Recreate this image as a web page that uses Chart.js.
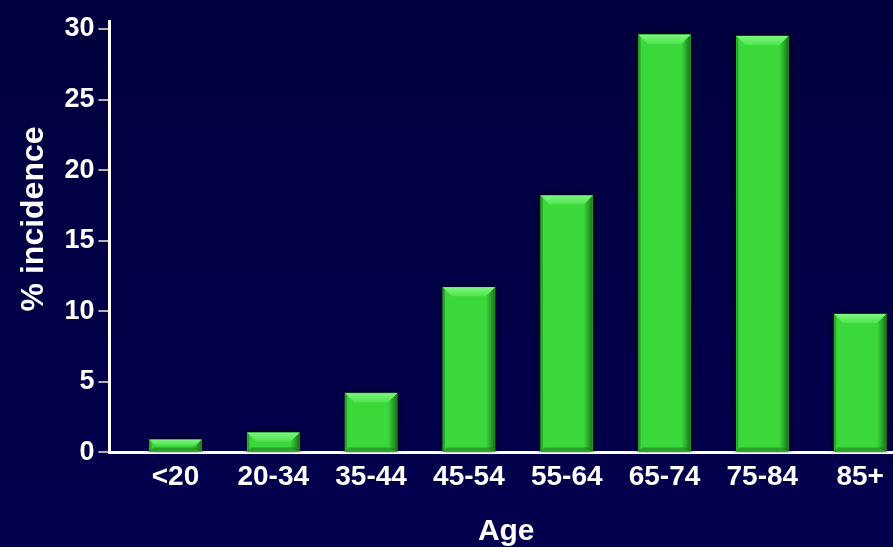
<!DOCTYPE html>
<html>
<head>
<meta charset="utf-8">
<script src="https://cdn.jsdelivr.net/npm/chart.js@4/dist/chart.umd.min.js"></script>
<style>
  html, body { margin: 0; padding: 0; overflow: hidden; }
  body { width: 893px; height: 547px; background: linear-gradient(#00003e, #03004e); }
  #c { position: absolute; left: 0; top: 0; }
</style>
</head>
<body>
<canvas id="c" width="903" height="547"></canvas>
<script>
// Age groups and incidence (%) per group
const ageGroups = ['<20', '20-34', '35-44', '45-54', '55-64', '65-74', '75-84', '85+'];
const incidence = [0.9, 1.4, 4.2, 11.7, 18.2, 29.6, 29.5, 9.8];
const yTicks = [0, 5, 10, 15, 20, 25, 30];

const FONT = '"Liberation Sans", Arial, sans-serif';

// Soft dark halo behind each bar
const barShadow = {
  id: 'barShadow',
  beforeDatasetDraw(chart) {
    const ctx = chart.ctx;
    ctx.save();
    ctx.shadowColor = 'rgba(0,0,0,0.95)';
    ctx.shadowBlur = 6;
  },
  afterDatasetDraw(chart) {
    chart.ctx.restore();
  }
};

// Bevelled edges drawn on top of each bar, using the bar element geometry
const barBevel = {
  id: 'barBevel',
  afterDatasetsDraw(chart) {
    const ctx = chart.ctx;
    const area = chart.chartArea;
    chart.getDatasetMeta(0).data.forEach(el => {
      const p = el.getProps(['x', 'y', 'base', 'width'], true);
      const l = p.x - p.width / 2, r = p.x + p.width / 2;
      const t = p.y, b = Math.min(p.base, area.bottom);
      const h = b - t;
      const bv = Math.min(9, h / 2);
      ctx.save();
      // right shading
      const gr = ctx.createLinearGradient(r - 9, 0, r, 0);
      gr.addColorStop(0, 'rgba(20,90,20,0)');
      gr.addColorStop(1, 'rgba(15,80,15,0.75)');
      ctx.fillStyle = gr;
      ctx.beginPath();
      ctx.moveTo(r, t); ctx.lineTo(r, b); ctx.lineTo(r - 9, b - Math.min(4, h / 2)); ctx.lineTo(r - 9, t + bv); ctx.closePath();
      ctx.fill();
      // bottom shading
      ctx.fillStyle = 'rgba(20,100,20,0.45)';
      ctx.beginPath();
      ctx.moveTo(l, b); ctx.lineTo(r, b); ctx.lineTo(r - 4, b - Math.min(4, h / 2)); ctx.lineTo(l + 4, b - Math.min(4, h / 2)); ctx.closePath();
      ctx.fill();
      // left edge
      ctx.fillStyle = 'rgba(20,110,20,0.5)';
      ctx.fillRect(l, t, 2, h);
      // top highlight
      const gt = ctx.createLinearGradient(0, t, 0, t + bv);
      gt.addColorStop(0, '#7ef57e');
      gt.addColorStop(1, '#4fe44f');
      ctx.fillStyle = gt;
      ctx.beginPath();
      ctx.moveTo(l, t); ctx.lineTo(r, t); ctx.lineTo(r - bv, t + bv); ctx.lineTo(l + bv, t + bv); ctx.closePath();
      ctx.fill();
      ctx.restore();
    });
  }
};

const points = incidence.map((v, i) => ({ x: i, y: v }));

new Chart(document.getElementById('c'), {
  type: 'bar',
  data: {
    datasets: [{
      data: points,
      backgroundColor: '#3ad83a',
      borderWidth: 0,
      barThickness: 52
    }]
  },
  options: {
    responsive: false,
    devicePixelRatio: 1,
    animation: false,
    layout: { padding: { left: 15, top: 21, right: 0, bottom: 0 } },
    plugins: { legend: { display: false }, tooltip: { enabled: false } },
    scales: {
      x: {
        type: 'linear',
        offset: false,
        min: -0.675,
        max: 7.438,
        z: 1,
        afterBuildTicks: s => { s.ticks = ageGroups.map((_, i) => ({ value: i })); },
        ticks: {
          color: '#ffffff',
          font: { family: FONT, size: 28, weight: 'bold' },
          padding: 8,
          maxRotation: 0,
          autoSkip: false,
          callback: v => ageGroups[v]
        },
        grid: { display: false, drawTicks: false, offset: false },
        border: { display: true, color: '#ffffff', width: 3 },
        title: {
          display: true,
          text: 'Age',
          color: '#ffffff',
          font: { family: FONT, size: 30, weight: 'bold', lineHeight: 1 },
          padding: { top: 15, bottom: 0 }
        }
      },
      y: {
        min: 0,
        max: 30.57,
        afterBuildTicks: s => { s.ticks = yTicks.map(v => ({ value: v })); },
        ticks: {
          color: '#ffffff',
          font: { family: FONT, size: 27, weight: 'bold' },
          padding: 4
        },
        grid: { drawOnChartArea: false, drawTicks: true, tickLength: 11, color: '#b4b4b4', lineWidth: 2 },
        border: { display: true, color: '#ffffff', width: 3 },
        title: {
          display: true,
          // leading no-break spaces lift the label a little above the axis centre
          text: '\u00a0\u00a0\u00a0\u00a0% incidence',
          color: '#ffffff',
          font: { family: FONT, size: 32, weight: 'bold' },
          padding: { top: 0, bottom: 7 }
        }
      }
    }
  },
  plugins: [barShadow, barBevel]
});
</script>
</body>
</html>
